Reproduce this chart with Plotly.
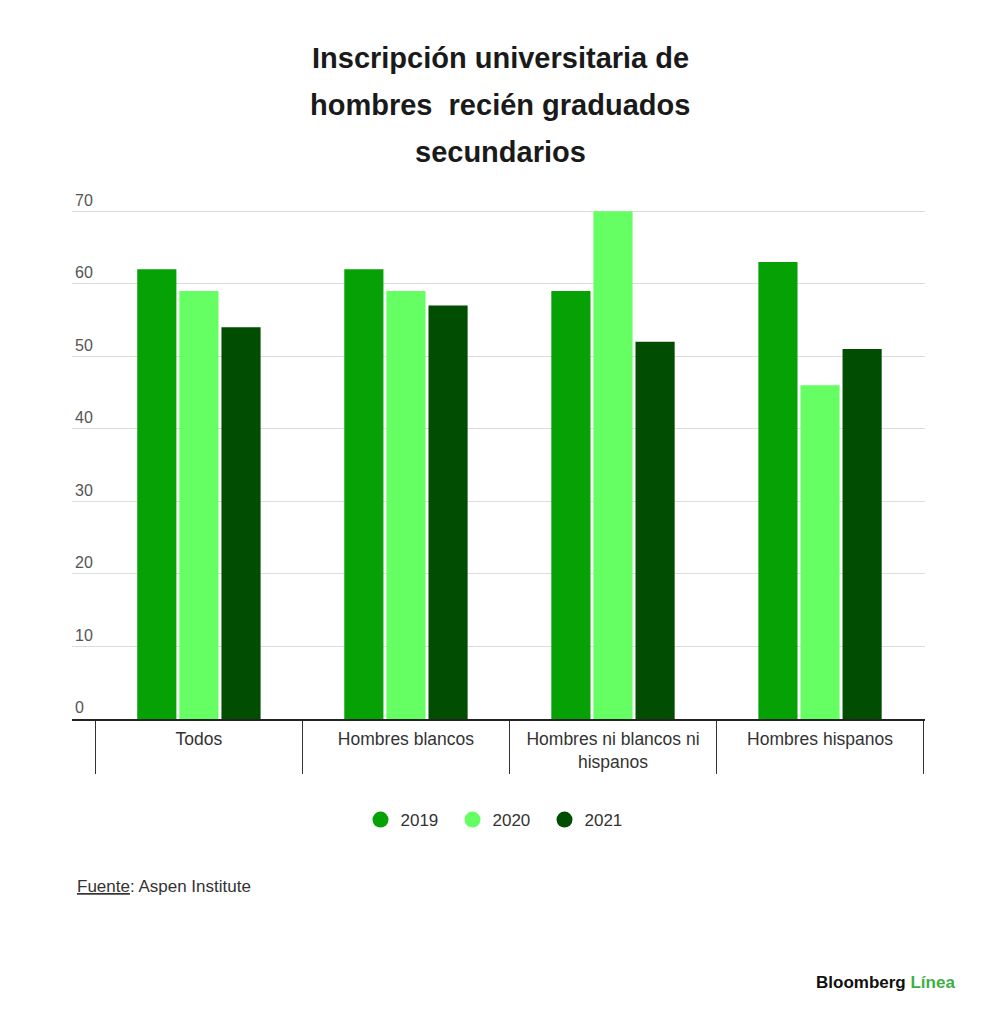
import plotly.graph_objects as go

categorias = ["Todos", "Hombres blancos", "Hombres ni blancos ni<br>hispanos", "Hombres hispanos"]
anios = ["2019", "2020", "2021"]
v2019 = [62, 62, 59, 63]
v2020 = [59, 59, 70, 46]
v2021 = [54, 57, 52, 51]
colores = ["#05a105", "#66ff63", "#014d01"]

W, H = 1000, 1025
OFF = 8  # page margin of the browser
L, R, T, B = 64, 83, 167, 314
pw, ph = W - L - R, H - T - B


def px(x):
    return (x - OFF - L) / pw


def py(y):
    return (H - B - (y - OFF)) / ph


FONT = "Liberation Sans, Arial, sans-serif"

fig = go.Figure()
for anio, vals, col in zip(anios, [v2019, v2020, v2021], colores):
    fig.add_trace(go.Bar(x=categorias, y=vals, name=anio, marker_color=col,
                         marker_line_width=0, showlegend=False))
    # legend entry with a round marker
    fig.add_trace(go.Scatter(x=[None], y=[None], name=anio, mode="markers",
                             marker=dict(symbol="circle", size=22, color=col)))

fig.update_layout(
    width=W, height=H,
    margin=dict(l=L, r=R, t=T, b=B),
    paper_bgcolor="white", plot_bgcolor="white",
    font=dict(family=FONT, color="#333", size=16),
    barmode="group", bargap=0.39, bargroupgap=0.07,
    legend=dict(orientation="h", x=0.5, xanchor="center", y=py(820), yanchor="middle",
                font=dict(size=17, color="#333"), itemsizing="trace",
                entrywidth=47, entrywidthmode="pixels"),
)

fig.update_yaxes(range=[0, 75], tickvals=[0, 10, 20, 30, 40, 50, 60, 70],
                 showgrid=True, gridcolor="#dcdcdc", gridwidth=1,
                 zeroline=False, ticks="", ticklabelposition="inside top",
                 tickfont=dict(size=16, color="#555"))
fig.update_xaxes(showline=True, linecolor="#222", linewidth=2, tickson="boundaries",
                 ticks="outside", ticklen=53, tickcolor="#333", tickwidth=1,
                 ticklabelstandoff=3, tickfont=dict(size=17.5, color="#333"),
                 range=[-0.613, 3.507])

titulo = ["Inscripción universitaria de", "hombres  recién graduados", "secundarios"]
for linea, yy in zip(titulo, [58, 105, 152]):
    fig.add_annotation(text=f"<b>{linea}</b>", xref="paper", yref="paper", x=px(500), y=py(yy),
                       xanchor="center", yanchor="middle", showarrow=False,
                       font=dict(size=29, color="#1a1a1a", family=FONT))

fig.add_annotation(text="<u>Fuente</u>: Aspen Institute", xref="paper", yref="paper",
                   x=px(75), y=py(886), xanchor="left", yanchor="middle", showarrow=False,
                   font=dict(size=17, color="#333"))
fig.add_annotation(text="<b>Bloomberg <span style='color:#3cb043'>Línea</span></b>",
                   xref="paper", yref="paper", x=px(957), y=py(982), xanchor="right",
                   yanchor="middle", showarrow=False, font=dict(size=17, color="#111"))

fig.write_html("out.html")
